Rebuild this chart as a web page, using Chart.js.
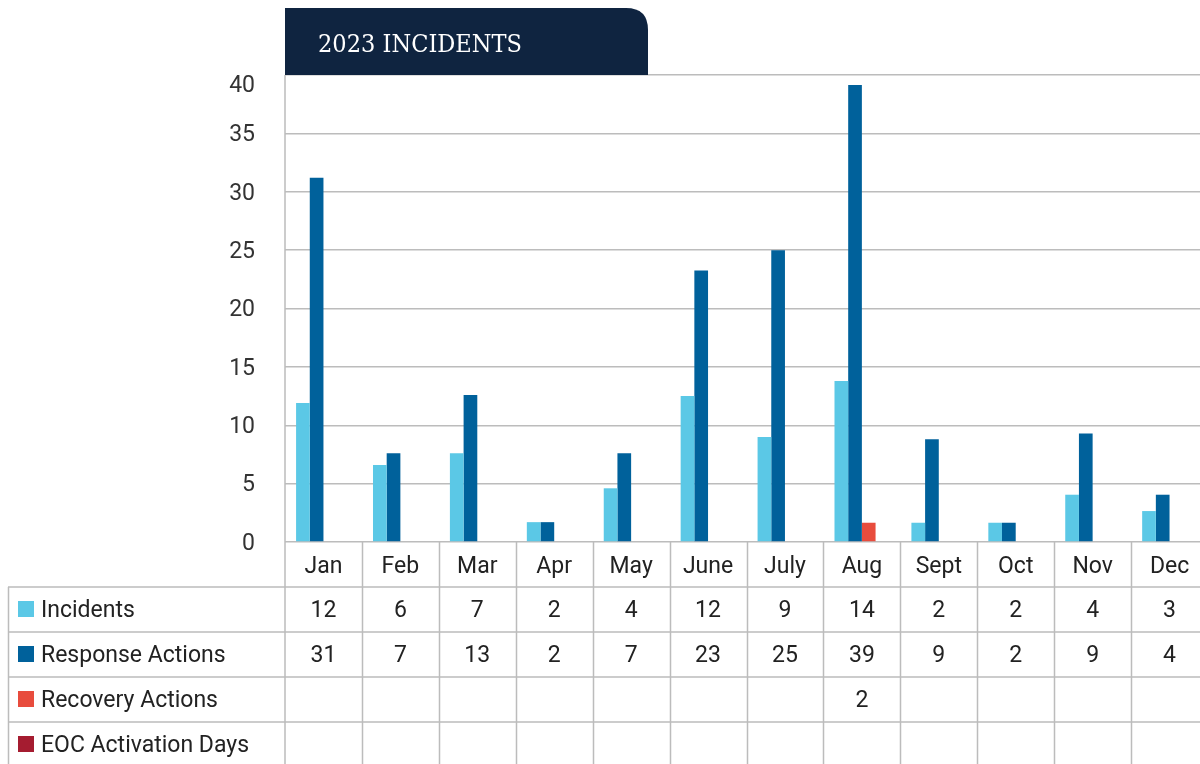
<!DOCTYPE html>
<html>
<head>
<meta charset="utf-8">
<script src="https://cdn.jsdelivr.net/npm/chart.js@4/dist/chart.umd.min.js"></script>
<style>
html,body{margin:0;padding:0;background:#fff;overflow:hidden;width:1200px;height:764px;}
#wrap{position:absolute;left:0;top:0;width:1209px;height:764px;}
</style>
</head>
<body>
<div id="wrap"><canvas id="c" width="1209" height="764"></canvas></div>
<script>
// ---- data ----
const title = "2023 INCIDENTS";
const categories = ["Jan","Feb","Mar","Apr","May","June","July","Aug","Sept","Oct","Nov","Dec"];
const seriesNames = ["Incidents","Response Actions","Recovery Actions","EOC Activation Days"];
const seriesColors = ["#5bc8e6","#00619b","#e84c3d","#a51c30"];
// bar heights as drawn
const incidents = [11.9,6.6,7.6,1.7,4.6,12.5,9.0,13.8,1.65,1.65,4.05,2.65];
const responseActions = [31.2,7.6,12.6,1.7,7.6,23.25,25.0,39.15,8.8,1.65,9.3,4.05];
const recoveryActions = [null,null,null,null,null,null,null,1.65,null,null,null,null];
const eocDays = [null,null,null,null,null,null,null,null,null,null,null,null];
// values printed in the table
const incidentsTable = ["12","6","7","2","4","12","9","14","2","2","4","3"];
const responseTable = ["31","7","13","2","7","23","25","39","9","2","9","4"];
const recoveryTable = ["","","","","","","","2","","","",""];
const eocTable = ["","","","","","","","","","","",""];
const yTicks = [0,5,10,15,20,25,30,35,40];

const tableRows = [incidentsTable, responseTable, recoveryTable, eocTable];
const FONT = "Roboto, 'Noto Sans', sans-serif";
const LINE = "#bcbcbc";
const TEXT_FONT = "23px " + FONT;

const overlay = {
  id: "overlay",
  afterDraw(chart) {
    const ctx = chart.ctx;
    const ca = chart.chartArea;
    const ys = chart.scales.y;
    const left = ca.left, right = ca.right;
    const colW = (right - left) / categories.length;
    const base = ca.bottom;
    ctx.save();
    // title tab
    const tx0 = 285, tx1 = 648, ty0 = 8, ty1 = ca.top, r = 22;
    ctx.fillStyle = "#0f2440";
    ctx.beginPath();
    ctx.moveTo(tx0, ty1);
    ctx.lineTo(tx0, ty0);
    ctx.lineTo(tx1 - r, ty0);
    ctx.quadraticCurveTo(tx1, ty0, tx1, ty0 + r);
    ctx.lineTo(tx1, ty1);
    ctx.closePath();
    ctx.fill();
    ctx.fillStyle = "#ffffff";
    ctx.font = "25px 'DejaVu Serif Condensed', 'DejaVu Serif', serif";
    ctx.textBaseline = "alphabetic";
    ctx.textAlign = "left";
    let w = ctx.measureText(title).width;
    ctx.save();
    ctx.translate(318, 52);
    ctx.scale(204 / w, 1);
    ctx.fillText(title, 0, 0);
    ctx.restore();

    ctx.textBaseline = "middle";
    // y tick labels
    ctx.fillStyle = "#333333";
    ctx.font = TEXT_FONT;
    ctx.textAlign = "right";
    yTicks.forEach(v => {
      let py = ys.getPixelForValue(v);
      if (py < ca.top + 9) py = ca.top + 9;
      ctx.fillText(String(v), 255, py + 2);
    });

    // grid lines of the table
    ctx.strokeStyle = LINE;
    ctx.lineWidth = 1.5;
    ctx.beginPath();
    ctx.moveTo(left, ca.top); ctx.lineTo(left, 764);
    for (let i = 1; i <= categories.length; i++) {
      const x = Math.round(left + i * colW) + 0.5;
      ctx.moveTo(x, base); ctx.lineTo(x, 764);
    }
    const rowY = [587, 632, 677, 722];
    rowY.forEach(y => { ctx.moveTo(8, y); ctx.lineTo(1209, y); });
    ctx.moveTo(8.5, 587); ctx.lineTo(8.5, 764);
    ctx.stroke();

    // category labels
    ctx.fillStyle = "#222222";
    ctx.font = TEXT_FONT;
    ctx.textAlign = "center";
    categories.forEach((c, i) => {
      ctx.fillText(c, left + (i + 0.5) * colW, 567);
    });

    // rows
    const rowCenters = [609, 654, 699, 744];
    tableRows.forEach((row, ri) => {
      const cy = rowCenters[ri];
      ctx.fillStyle = seriesColors[ri];
      ctx.fillRect(18, cy - 8, 16, 16);
      ctx.fillStyle = "#222222";
      ctx.textAlign = "left";
      ctx.fillText(seriesNames[ri], 41, cy + 2);
      ctx.textAlign = "center";
      row.forEach((v, i) => {
        if (v !== "") ctx.fillText(v, left + (i + 0.5) * colW, cy + 2);
      });
    });
    ctx.restore();
  }
};

const mk = (label, data, color) => ({
  label, data, backgroundColor: color, borderWidth: 0,
  categoryPercentage: 0.712, barPercentage: 1.0
});

new Chart(document.getElementById("c"), {
  type: "bar",
  data: {
    labels: categories,
    datasets: [
      mk(seriesNames[0], incidents, seriesColors[0]),
      mk(seriesNames[1], responseActions, seriesColors[1]),
      mk(seriesNames[2], recoveryActions, seriesColors[2]),
      mk(seriesNames[3], eocDays, seriesColors[3])
    ]
  },
  options: {
    responsive: false,
    animation: false,
    layout: { padding: { left: 285, right: 1, top: 75, bottom: 222 } },
    plugins: { legend: { display: false }, tooltip: { enabled: false } },
    scales: {
      x: { display: false },
      y: {
        min: 0, max: 40,
        ticks: { display: false, stepSize: 5 },
        grid: { color: LINE, lineWidth: 1.5, drawTicks: false },
        border: { display: false },
        afterFit(s) { s.width = 0; }
      }
    }
  },
  plugins: [overlay]
});
</script>
</body>
</html>
